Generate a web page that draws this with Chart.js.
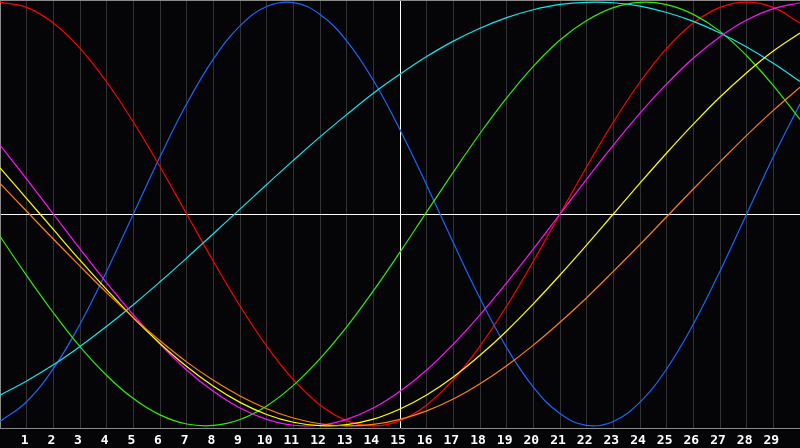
<!DOCTYPE html>
<html>
<head>
<meta charset="utf-8">
<script src="https://cdn.jsdelivr.net/npm/chart.js@4/dist/chart.umd.min.js"></script>
<style>
  html, body { margin: 0; padding: 0; background: #050507; }
  canvas { display: block; }
</style>
</head>
<body>
<canvas id="bio" width="800" height="448"></canvas>
<script>
"use strict"
var days = [0, 1, 2, 3, 4, 5, 6, 7, 8, 9, 10, 11, 12, 13, 14, 15, 16, 17, 18, 19, 20, 21, 22, 23, 24, 25, 26, 27, 28, 29, 30];
var dayLabels = ['', '1', '2', '3', '4', '5', '6', '7', '8', '9', '10', '11', '12', '13', '14', '15', '16', '17', '18', '19', '20', '21', '22', '23', '24', '25', '26', '27', '28', '29', ''];
var today = 15;

// values, one per day
var red = [1, 0.975, 0.901, 0.782, 0.623, 0.434, 0.223, 0, -0.223, -0.434, -0.623, -0.782, -0.901, -0.975, -1, -0.975, -0.901, -0.782, -0.623, -0.434, -0.223, 0, 0.223, 0.434, 0.623, 0.782, 0.901, 0.975, 1, 0.975, 0.901];
var blue = [-0.979, -0.886, -0.730, -0.520, -0.270, 0, 0.270, 0.520, 0.731, 0.888, 0.979, 0.998, 0.942, 0.817, 0.631, 0.398, 0.136, -0.136, -0.398, -0.631, -0.817, -0.942, -0.998, -0.979, -0.888, -0.731, -0.520, -0.270, 0, 0.270, 0.520];
var green = [-0.105, -0.291, -0.466, -0.626, -0.762, -0.871, -0.948, -0.991, -0.998, -0.970, -0.906, -0.809, -0.683, -0.533, -0.363, -0.180, 0.010, 0.198, 0.380, 0.548, 0.697, 0.821, 0.913, 0.974, 0.999, 0.988, 0.942, 0.862, 0.747, 0.606, 0.446];
var cyan = [-0.855, -0.788, -0.712, -0.625, -0.530, -0.428, -0.320, -0.208, -0.093, 0.023, 0.139, 0.253, 0.364, 0.469, 0.570, 0.660, 0.743, 0.816, 0.877, 0.927, 0.964, 0.989, 0.999, 0.997, 0.981, 0.951, 0.909, 0.854, 0.788, 0.711, 0.625];
var magenta = [0.325, 0.165, 0, -0.165, -0.325, -0.476, -0.614, -0.736, -0.837, -0.916, -0.969, -0.997, -0.997, -0.969, -0.916, -0.837, -0.736, -0.614, -0.476, -0.325, -0.165, 0, 0.165, 0.325, 0.476, 0.614, 0.736, 0.837, 0.916, 0.969, 0.997];
var yellow = [0.218, 0.073, -0.073, -0.218, -0.357, -0.490, -0.611, -0.720, -0.813, -0.889, -0.946, -0.983, -0.999, -0.994, -0.968, -0.920, -0.854, -0.769, -0.667, -0.552, -0.424, -0.288, -0.146, 0, 0.146, 0.288, 0.424, 0.552, 0.667, 0.769, 0.854];
var orange = [0.144, 0.013, -0.118, -0.246, -0.371, -0.489, -0.598, -0.698, -0.785, -0.859, -0.919, -0.963, -0.990, -1.000, -0.993, -0.969, -0.929, -0.873, -0.801, -0.716, -0.619, -0.511, -0.395, -0.271, -0.144, -0.013, 0.118, 0.246, 0.371, 0.489, 0.598];

function pts(arr) {
    return arr.map(function(v, i) { return {x: days[i], y: v}; });
}
function line(data, color) {
    return {
        data: pts(data),
        borderColor: color,
        borderWidth: 1.2,
        pointRadius: 0,
        tension: 0.4,
        fill: false
    };
}

var bgPlugin = {
    id: 'bg',
    beforeDraw: function(chart) {
        var c = chart.ctx;
        c.save();
        c.fillStyle = '#050507';
        c.fillRect(0, 0, chart.width, chart.height);
        c.restore();
    },
    afterDraw: function(chart) {
        var c = chart.ctx, a = chart.chartArea;
        c.save();
        c.strokeStyle = '#8a8a8a';
        c.lineWidth = 1;
        c.beginPath();
        c.moveTo(a.left, a.top + 0.5);
        c.lineTo(a.right, a.top + 0.5);
        c.stroke();
        c.restore();
    }
};

var ctx = document.getElementById('bio');
var chart = new Chart(ctx, {
    type: 'line',
    data: {
        datasets: [
            line(orange, '#ff8010'),
            line(yellow, '#ffff00'),
            line(magenta, '#ff10ff'),
            line(cyan, '#10e8f0'),
            line(green, '#30ee00'),
            line(blue, '#1a66ff'),
            line(red, '#ff0000')
        ]
    },
    options: {
        responsive: false,
        devicePixelRatio: 1,
        animation: false,
        layout: { padding: 0 },
        plugins: {
            legend: { display: false },
            tooltip: { enabled: false }
        },
        scales: {
            x: {
                type: 'linear',
                min: 0,
                max: 30,
                afterBuildTicks: function(scale) {
                    scale.ticks = days.map(function(d) { return {value: d}; });
                },
                afterFit: function(scale) {
                    scale.height = 20;
                    scale.paddingLeft = 0;
                    scale.paddingRight = 0;
                },
                ticks: {
                    autoSkip: false,
                    maxRotation: 0,
                    padding: 5,
                    labelOffset: -2,
                    color: '#ffffff',
                    font: { family: 'DejaVu Sans Mono', size: 13, weight: 'bold' },
                    callback: function(v) { return dayLabels[v]; }
                },
                grid: {
                    drawTicks: false,
                    lineWidth: 1,
                    color: function(c) {
                        return c.tick && c.tick.value === today ? '#ffffff' : '#333336';
                    }
                },
                border: { color: '#8a8a8a', width: 1 }
            },
            y: {
                min: -1.01,
                max: 1.01,
                afterBuildTicks: function(scale) {
                    scale.ticks = [{value: 0}];
                },
                afterFit: function(scale) {
                    scale.width = 0;
                    scale.paddingTop = 0;
                    scale.paddingBottom = 0;
                },
                ticks: { display: false },
                grid: {
                    drawTicks: false,
                    color: '#ffffff',
                    lineWidth: 1
                },
                border: { color: '#8a8a8a', width: 1 }
            }
        }
    },
    plugins: [bgPlugin]
});
</script>
</body>
</html>
